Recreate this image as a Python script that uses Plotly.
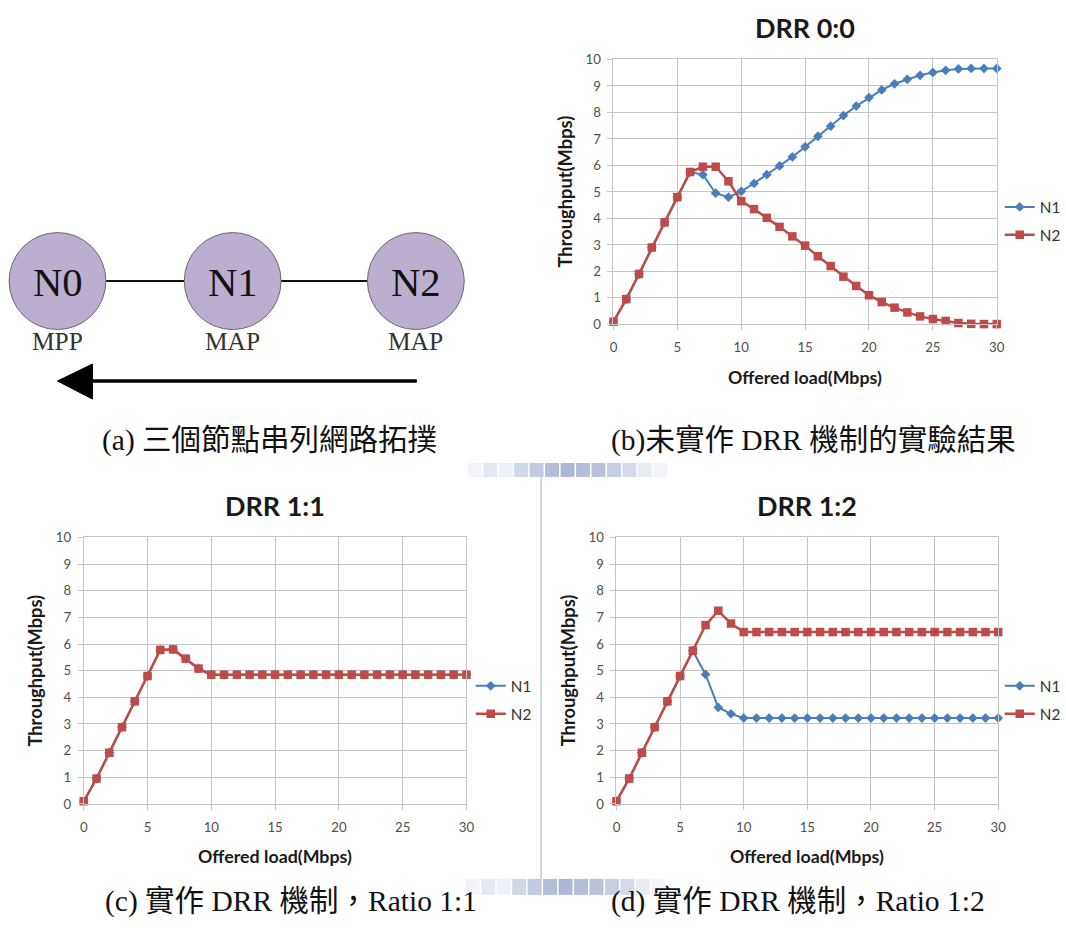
import plotly.graph_objects as go

W, H = 1066, 928

# The page is shown with the browser's default body margin and the whole
# page is then fitted back into 1066 x 928.  Positions below are written
# in final picture pixels and converted to figure fractions with the
# measured scale/offset of that fit.
SX, OX = 0.9887, 3.4
SY, OY = H / (H + 16), 8 * H / (H + 16)
FS = 1 / SY  # font scale so text keeps its intended pixel size

# ---------------- data ----------------
offered_load = list(range(0, 31))
x_ticks = [0, 5, 10, 15, 20, 25, 30]
y_ticks = [0, 1, 2, 3, 4, 5, 6, 7, 8, 9, 10]

drr00_n1 = [0.10, 0.95, 1.90, 2.90, 3.85, 4.80, 5.75, 5.65, 4.95, 4.80,
            5.02, 5.32, 5.65, 5.98, 6.32, 6.70, 7.10, 7.48, 7.88, 8.24,
            8.56, 8.85, 9.08, 9.25, 9.40, 9.51, 9.59, 9.64, 9.66, 9.66, 9.66]
drr00_n2 = [0.10, 0.95, 1.90, 2.90, 3.85, 4.80, 5.75, 5.95, 5.95, 5.40,
            4.65, 4.35, 4.02, 3.68, 3.32, 2.97, 2.57, 2.20, 1.80, 1.45,
            1.10, 0.84, 0.63, 0.45, 0.30, 0.20, 0.13, 0.05, 0.02, 0.01, 0.01]

drr11_n1 = [0.10, 0.95, 1.92, 2.88, 3.85, 4.80, 5.78, 5.80, 5.45, 5.08,
            4.85, 4.85, 4.85, 4.85, 4.85, 4.85, 4.85, 4.85, 4.85, 4.85,
            4.85, 4.85, 4.85, 4.85, 4.85, 4.85, 4.85, 4.85, 4.85, 4.85, 4.85]
drr11_n2 = [0.10, 0.95, 1.92, 2.88, 3.85, 4.80, 5.78, 5.80, 5.45, 5.08,
            4.85, 4.85, 4.85, 4.85, 4.85, 4.85, 4.85, 4.85, 4.85, 4.85,
            4.85, 4.85, 4.85, 4.85, 4.85, 4.85, 4.85, 4.85, 4.85, 4.85, 4.85]

drr12_n1 = [0.10, 0.95, 1.92, 2.88, 3.85, 4.80, 5.75, 4.86, 3.62, 3.38,
            3.22, 3.22, 3.22, 3.22, 3.22, 3.22, 3.22, 3.22, 3.22, 3.22,
            3.22, 3.22, 3.22, 3.22, 3.22, 3.22, 3.22, 3.22, 3.22, 3.22, 3.22]
drr12_n2 = [0.10, 0.95, 1.92, 2.88, 3.85, 4.80, 5.75, 6.71, 7.25, 6.77,
            6.45, 6.45, 6.45, 6.45, 6.45, 6.45, 6.45, 6.45, 6.45, 6.45,
            6.45, 6.45, 6.45, 6.45, 6.45, 6.45, 6.45, 6.45, 6.45, 6.45, 6.45]

series_names = ["N1", "N2"]
chart_titles = ["DRR 0:0", "DRR 1:1", "DRR 1:2"]
x_title = "Offered load(Mbps)"
y_title = "Throughput(Mbps)"

node_names = ["N0", "N1", "N2"]
node_roles = ["MPP", "MAP", "MAP"]

captions = ["(a) 三個節點串列網路拓撲",
            "(b)未實作 DRR 機制的實驗結果",
            "(c) 實作 DRR 機制，Ratio 1:1",
            "(d) 實作 DRR 機制，Ratio 1:2"]

# ---------------- styling ----------------
BLUE = "#4A7EBB"
RED = "#BE4B48"
GRID = "#C4C4C4"
TICK_COLOR = "#4F4F4F"
SANS = "Lato, 'Open Sans', sans-serif"
SERIF = "'Liberation Serif', 'Noto Sans CJK TC', serif"


def px(x):
    """picture x pixel -> paper fraction"""
    return ((x - OX) / SX) / W


def py(y):
    """picture y pixel (from top) -> paper fraction"""
    return 1 - ((y - OY) / SY) / H


def fsize(s):
    return s * FS


fig = go.Figure()

# panel pixel boxes: (left, right, bottom, top), axis suffix, legend name
panels = [
    dict(box=(614, 998, 324.3, 59.3), ax="2", legend="legend",
         n1=drr00_n1, n2=drr00_n2, title=chart_titles[0]),
    dict(box=(83.3, 466.7, 804, 537.5), ax="", legend="legend2",
         n1=drr11_n1, n2=drr11_n2, title=chart_titles[1]),
    dict(box=(617, 999.5, 804, 537.5), ax="3", legend="legend3",
         n1=drr12_n1, n2=drr12_n2, title=chart_titles[2]),
]

axis_common = dict(
    showgrid=True, gridcolor=GRID, gridwidth=1,
    showline=True, linecolor=GRID, linewidth=1, mirror=True,
    ticks="outside", ticklen=5, tickcolor=GRID, tickwidth=1,
    zeroline=False, fixedrange=True,
    tickfont=dict(family=SANS, size=fsize(13), color=TICK_COLOR),
)

for i, p in enumerate(panels):
    left, right, bottom, top = p["box"]
    xa = "x" + p["ax"]
    ya = "y" + p["ax"]
    fig.add_trace(go.Scatter(
        x=offered_load, y=p["n1"], name=series_names[0], mode="lines+markers",
        line=dict(color=BLUE, width=2),
        marker=dict(symbol="diamond", size=7.5, color=BLUE),
        xaxis=xa, yaxis=ya, cliponaxis=False,
        legend=p["legend"], legendgroup=f"g{i}a",
    ))
    fig.add_trace(go.Scatter(
        x=offered_load, y=p["n2"], name=series_names[1], mode="lines+markers",
        line=dict(color=RED, width=2.5),
        marker=dict(symbol="square", size=8.5, color=RED),
        xaxis=xa, yaxis=ya, cliponaxis=False,
        legend=p["legend"], legendgroup=f"g{i}b",
    ))
    xkey = "xaxis" + p["ax"]
    ykey = "yaxis" + p["ax"]
    fig.update_layout({
        xkey: dict(axis_common, domain=[px(left), px(right)], range=[0, 30],
                   tickvals=x_ticks, anchor=ya, ticklabelstandoff=6),
        ykey: dict(axis_common, domain=[py(bottom), py(top)], range=[0, 10],
                   tickvals=y_ticks, anchor=xa, ticklabelstandoff=4),
    })
    cx = (left + right) / 2
    # chart title
    fig.add_annotation(text=f"<b>{p['title']}</b>", x=px(cx), y=py(top - 32),
                       xref="paper", yref="paper", showarrow=False,
                       xanchor="center", yanchor="middle",
                       font=dict(family=SANS, size=fsize(26.5), color="#1A1A1A"))
    # x axis title
    fig.add_annotation(text=f"<b>{x_title}</b>", x=px(cx), y=py(bottom + 52.5),
                       xref="paper", yref="paper", showarrow=False,
                       xanchor="center", yanchor="middle",
                       font=dict(family=SANS, size=fsize(17.5), color="#1A1A1A"))
    # y axis title
    fig.add_annotation(text=f"<b>{y_title}</b>", x=px(left - 49),
                       y=py((top + bottom) / 2),
                       xref="paper", yref="paper", showarrow=False,
                       textangle=-90, xanchor="center", yanchor="middle",
                       font=dict(family=SANS, size=fsize(18), color="#1A1A1A"))

legend_common = dict(
    xanchor="left", yanchor="middle", bgcolor="rgba(0,0,0,0)",
    font=dict(family=SANS, size=fsize(15), color="#333333"),
    tracegroupgap=5, itemwidth=30,
)
fig.update_layout(
    legend=dict(legend_common, x=px(1001), y=py(221)),
    legend2=dict(legend_common, x=px(471), y=py(700)),
    legend3=dict(legend_common, x=px(1001), y=py(700)),
)

# ---------------- topology diagram ----------------
shapes = []
node_cx = [57, 232.5, 416]
node_cy = 281
node_r = 48.5

# links between neighbouring nodes
for a, b in zip(node_cx[:-1], node_cx[1:]):
    shapes.append(dict(type="line", xref="paper", yref="paper",
                       x0=px(a + node_r), x1=px(b - node_r),
                       y0=py(node_cy), y1=py(node_cy),
                       line=dict(color="#111111", width=2)))
for cx, name, role in zip(node_cx, node_names, node_roles):
    shapes.append(dict(type="circle", xref="paper", yref="paper",
                       x0=px(cx - node_r), x1=px(cx + node_r),
                       y0=py(node_cy + node_r), y1=py(node_cy - node_r),
                       fillcolor="#BBAECF", line=dict(color="#6A6A6A", width=1)))
    fig.add_annotation(text=name, x=px(cx), y=py(node_cy + 1), xref="paper",
                       yref="paper", showarrow=False, xanchor="center",
                       yanchor="middle",
                       font=dict(family=SERIF, size=fsize(40), color="#111111"))
    fig.add_annotation(text=role, x=px(cx), y=py(341), xref="paper",
                       yref="paper", showarrow=False, xanchor="center",
                       yanchor="middle",
                       font=dict(family=SERIF, size=fsize(25), color="#333333"))

# flow arrow (N2 -> N0)
shapes.append(dict(type="line", xref="paper", yref="paper",
                   x0=px(417), x1=px(88), y0=py(381), y1=py(381),
                   line=dict(color="#000000", width=3.5)))
shapes.append(dict(type="path", xref="paper", yref="paper",
                   path=(f"M {px(57)} {py(381)} L {px(92)} {py(364)} "
                         f"L {px(92)} {py(399)} Z"),
                   fillcolor="#000000", line=dict(color="#000000", width=1)))

# faint scan residue between the panels
band_shades = ["#F1F3F9", "#E4E8F2", "#EEF0F7", "#D2D8E8", "#C3CADF", "#B3BCD8",
               "#AEB8D6", "#B5BED9", "#BAC2DB", "#C8CEE1", "#D6DBE9", "#E9ECF4",
               "#F2F4F9"]
for k, shade in enumerate(band_shades):
    x0 = 468 + k * 15.5
    shapes.append(dict(type="rect", xref="paper", yref="paper",
                       x0=px(x0), x1=px(x0 + 14), y0=py(477), y1=py(463),
                       fillcolor=shade, line=dict(width=0), layer="below"))
    shapes.append(dict(type="rect", xref="paper", yref="paper",
                       x0=px(x0 - 2), x1=px(x0 + 12), y0=py(895), y1=py(879),
                       fillcolor=shade, line=dict(width=0), layer="below"))
shapes.append(dict(type="line", xref="paper", yref="paper",
                   x0=px(541.5), x1=px(541.5), y0=py(477), y1=py(879),
                   line=dict(color="#C2C9DF", width=1.5), layer="below"))

fig.update_layout(shapes=shapes)

# ---------------- captions ----------------
caption_pos = [(100, 440), (610, 440), (103, 902), (610, 902)]
for text, (cx, cy) in zip(captions, caption_pos):
    fig.add_annotation(text=text, x=px(cx), y=py(cy), xref="paper",
                       yref="paper", showarrow=False, xanchor="left",
                       yanchor="middle",
                       font=dict(family=SERIF, size=fsize(29), color="#111111"))

fig.update_layout(
    width=W, height=H, autosize=False,
    margin=dict(l=0, r=0, t=0, b=0),
    paper_bgcolor="white", plot_bgcolor="white",
)

fig.write_html("out.html")
